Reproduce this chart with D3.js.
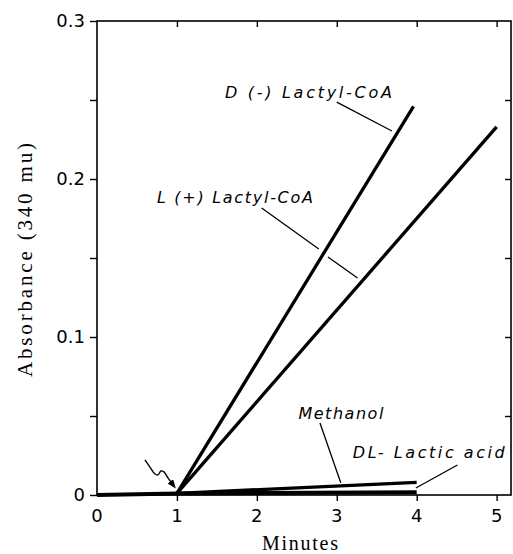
<!DOCTYPE html>
<html>
<head>
<meta charset="utf-8">
<script src="https://cdn.jsdelivr.net/npm/d3@7"></script>
<style>
  body { margin: 0; background: #fff; }
  svg { display: block; }
</style>
</head>
<body>
<div id="chart"></div>
<script>
// values (minutes, absorbance at 340 mu)
var xTicks = [0, 1, 2, 3, 4, 5]
var yTicks = [0, 0.1, 0.2, 0.3]
var yMinorTicks = [0, 0.05, 0.1, 0.15, 0.2, 0.25, 0.3]

var baseline = [[0, 0], [1, 0.001]]
var dLactyl = [[1, 0.001], [3.96, 0.246]]
var lLactyl = [[1, 0.001], [5, 0.233]]
var methanol = [[1, 0.001], [4, 0.008]]
var dlLactic = [[1, 0.001], [4, 0.0018]]

var labelNames = ["D (-) Lactyl-CoA", "L (+) Lactyl-CoA", "Methanol", "DL- Lactic acid"]
var labelAt = [[1.6, 0.2515], [0.75, 0.1848], [2.52, 0.0481], [3.2, 0.0234]]
var labelWidth = [167, 156, 85, 152]

// leader lines from labels to curves
var leaders = [
  [[3.0, 0.2487], [3.69, 0.2304]],
  [[2.06, 0.1816], [2.775, 0.1557]],
  [[2.89, 0.1506], [3.26, 0.1373]],
  [[2.79, 0.0456], [3.05, 0.0078]],
  [[4.51, 0.019], [3.99, 0.0044]]
]

// wavy arrow marking the addition at 1 min
var arrowPts = [[0.6, 0.0222], [0.6625, 0.0177], [0.725, 0.0133], [0.7625, 0.0127],
  [0.8, 0.0152], [0.8375, 0.0146], [0.8875, 0.0108], [0.925, 0.0082]]

var width = 513, height = 554
var mLeft = 97, mRight = 511, mTop = 21, mBottom = 495

var svg = d3.select("#chart").append("svg")
  .attr("width", width)
  .attr("height", height)

var x = d3.scaleLinear().domain([0, 5.18]).range([mLeft, mRight])
var y = d3.scaleLinear().domain([0, 0.3]).range([mBottom, mTop])

var defs = svg.append("defs")
defs.append("marker")
  .attr("id", "head")
  .attr("viewBox", "0 0 10 10")
  .attr("refX", 1).attr("refY", 5)
  .attr("markerWidth", 9).attr("markerHeight", 7)
  .attr("orient", "auto")
  .attr("markerUnits", "userSpaceOnUse")
  .attr("preserveAspectRatio", "none")
  .append("path")
  .attr("d", "M0,0 L10,5 L0,10 Z")
  .attr("fill", "#000")

// frame
svg.append("rect")
  .attr("x", mLeft).attr("y", mTop)
  .attr("width", mRight - mLeft).attr("height", mBottom - mTop)
  .attr("fill", "none").attr("stroke", "#000").attr("stroke-width", 1.6)

// left axis: outward ticks every 0.05, labels every 0.1
svg.append("g")
  .attr("transform", "translate(" + mLeft + ",0)")
  .call(d3.axisLeft(y).tickValues(yMinorTicks).tickSize(7).tickFormat(""))
  .call(function(g) { g.select(".domain").remove() })
  .selectAll("line").attr("stroke-width", 1.4)

// right side inward ticks
svg.append("g")
  .attr("transform", "translate(" + mRight + ",0)")
  .call(d3.axisLeft(y).tickValues(yMinorTicks.slice(1, -1)).tickSize(6).tickFormat(""))
  .call(function(g) { g.select(".domain").remove() })
  .selectAll("line").attr("stroke-width", 1.4)

// bottom axis ticks outward, top ticks inward
svg.append("g")
  .attr("transform", "translate(0," + mBottom + ")")
  .call(d3.axisBottom(x).tickValues(xTicks.slice(1)).tickSize(6).tickFormat(""))
  .call(function(g) { g.select(".domain").remove() })
  .selectAll("line").attr("stroke-width", 1.4)

svg.append("g")
  .attr("transform", "translate(0," + mTop + ")")
  .call(d3.axisBottom(x).tickValues(xTicks.slice(1)).tickSize(6).tickFormat(""))
  .call(function(g) { g.select(".domain").remove() })
  .selectAll("line").attr("stroke-width", 1.4)

// tick labels
svg.selectAll(".ylab")
  .data(yTicks)
  .enter().append("text")
  .attr("class", "ylab")
  .attr("x", mLeft - 12)
  .attr("y", function(d) { return y(d) + 6 })
  .attr("text-anchor", "end")
  .attr("font-family", "DejaVu Sans")
  .attr("font-size", 18)
  .text(function(d) { return d === 0 ? "0" : d3.format(".1f")(d) })

svg.selectAll(".xlab")
  .data(xTicks)
  .enter().append("text")
  .attr("class", "xlab")
  .attr("x", function(d) { return x(d) })
  .attr("y", mBottom + 27)
  .attr("text-anchor", "middle")
  .attr("font-family", "DejaVu Sans")
  .attr("font-size", 18)
  .text(function(d) { return d })

// axis titles
svg.append("text")
  .attr("x", 300).attr("y", 550)
  .attr("text-anchor", "middle")
  .attr("font-family", "Liberation Serif")
  .attr("font-size", 20)
  .attr("textLength", 76)
  .attr("lengthAdjust", "spacing")
  .text("Minutes")

svg.append("text")
  .attr("transform", "translate(32,260) rotate(-90)")
  .attr("text-anchor", "middle")
  .attr("font-family", "Liberation Serif")
  .attr("font-size", 21)
  .attr("textLength", 234)
  .attr("lengthAdjust", "spacing")
  .text("Absorbance  (340 mu)")

// curves
var line = d3.line()
  .x(function(d) { return x(d[0]) })
  .y(function(d) { return y(d[1]) })

svg.append("path").datum(baseline)
  .attr("d", line).attr("fill", "none").attr("stroke", "#000").attr("stroke-width", 4)

var series = [dLactyl, lLactyl, methanol, dlLactic]
svg.selectAll(".series")
  .data(series)
  .enter().append("path")
  .attr("class", "series")
  .attr("d", line)
  .attr("fill", "none")
  .attr("stroke", "#000")
  .attr("stroke-width", function(d, i) { return i === 3 ? 4 : 3.3 })

// leaders
svg.selectAll(".leader")
  .data(leaders)
  .enter().append("path")
  .attr("class", "leader")
  .attr("d", line)
  .attr("fill", "none")
  .attr("stroke", "#000")
  .attr("stroke-width", 1.3)

// labels
svg.selectAll(".lab")
  .data(labelNames)
  .enter().append("text")
  .attr("class", "lab")
  .attr("x", function(d, i) { return x(labelAt[i][0]) })
  .attr("y", function(d, i) { return y(labelAt[i][1]) })
  .attr("font-family", "DejaVu Sans")
  .attr("font-style", "italic")
  .attr("font-size", 16)
  .attr("textLength", function(d, i) { return labelWidth[i] })
  .attr("lengthAdjust", "spacing")
  .text(function(d) { return d })

// wavy arrow
svg.append("path").datum(arrowPts)
  .attr("d", d3.line()
    .x(function(d) { return x(d[0]) })
    .y(function(d) { return y(d[1]) })
    .curve(d3.curveCatmullRom))
  .attr("fill", "none")
  .attr("stroke", "#000")
  .attr("stroke-width", 1.4)
  .attr("marker-end", "url(#head)")
</script>
</body>
</html>
